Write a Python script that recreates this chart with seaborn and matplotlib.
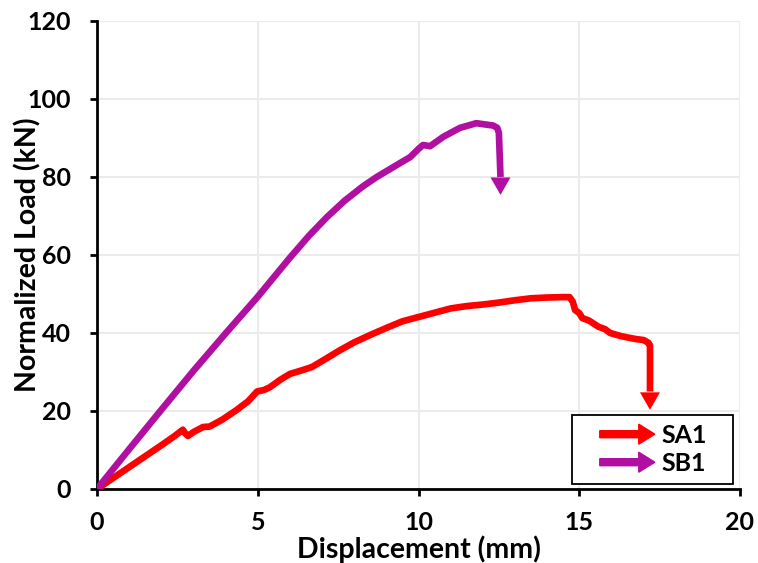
import matplotlib
matplotlib.use("Agg")
import matplotlib.pyplot as plt
import matplotlib.patches as mpatches
from matplotlib.legend_handler import HandlerPatch
import pandas as pd
import seaborn as sns

# Load-displacement curves (mm, kN); the last point of each series is the arrow tip
sa1_disp = [0, 0.5, 1.0, 1.5, 2.0, 2.4, 2.67, 2.75, 2.83, 3.0, 3.3, 3.5, 3.9, 4.35,
            4.7, 4.98, 5.2, 5.38, 5.7, 6.0, 6.4, 6.69, 7.1, 7.56, 8.0, 8.5, 9.0,
            9.5, 10.0, 10.5, 11.0, 11.5, 12.0, 12.5, 13.0, 13.5, 14.0, 14.5, 14.7,
            14.8, 14.87, 15.0, 15.1, 15.3, 15.6, 15.8, 15.96, 16.3, 16.6, 16.8,
            17.0, 17.15, 17.2, 17.2, 17.2]
sa1_load = [0, 2.8, 5.6, 8.4, 11.2, 13.5, 15.2, 14.2, 13.6, 14.6, 15.9, 16.0, 17.8,
            20.3, 22.5, 25.0, 25.4, 26.1, 28.0, 29.5, 30.5, 31.3, 33.3, 35.6, 37.6,
            39.5, 41.3, 43.0, 44.1, 45.2, 46.3, 46.9, 47.3, 47.8, 48.4, 48.9, 49.1,
            49.2, 49.2, 48.0, 45.9, 45.1, 43.8, 43.2, 41.6, 41.0, 40.0, 39.2, 38.7,
            38.4, 38.2, 37.5, 36.8, 25.0, 20.3]

sb1_disp = [0, 1.0, 2.0, 3.0, 4.0, 5.0, 6.0, 6.6, 7.15, 7.7, 8.27, 8.7, 9.33, 9.74,
            10.0, 10.14, 10.36, 10.77, 11.29, 11.8, 12.05, 12.32, 12.45, 12.5,
            12.55, 12.55]
sb1_load = [0, 10.2, 20.3, 30.3, 39.9, 49.3, 59.3, 65.0, 69.7, 73.9, 77.6, 80.0,
            83.1, 85.1, 87.2, 88.2, 87.9, 90.3, 92.6, 93.8, 93.5, 93.2, 92.6, 91.3,
            80.0, 75.4]

series_names = ["SA1", "SB1"]
series_colors = ["#FF0000", "#B10EA2"]
x_ticks = [0, 5, 10, 15, 20]
y_ticks = [0, 20, 40, 60, 80, 100, 120]

sns.set_theme(style="whitegrid")
plt.rcParams["font.family"] = ["Lato", "DejaVu Sans"]
plt.rcParams["font.weight"] = "bold"

fig, ax = plt.subplots(figsize=(7.58, 5.63), dpi=100)
fig.subplots_adjust(left=97 / 758, right=740 / 758, top=1 - 21 / 563, bottom=1 - 489 / 563)

series = [(series_names[0], sa1_disp, sa1_load), (series_names[1], sb1_disp, sb1_load)]
palette = dict(zip(series_names, series_colors))

# Curve body up to the arrow base
frames = [pd.DataFrame({"Displacement": xs[:-1], "Load": ys[:-1], "Specimen": name})
          for name, xs, ys in series]
df = pd.concat(frames, ignore_index=True)
sns.lineplot(data=df, x="Displacement", y="Load", hue="Specimen", palette=palette,
             estimator=None, sort=False, linewidth=4.8, legend=False, ax=ax, zorder=3)
for line in ax.get_lines():
    line.set_solid_joinstyle("round")
    line.set_solid_capstyle("butt")

# Arrowheads from the base point to the tip
for name, xs, ys in series:
    ax.annotate("", xy=(xs[-1], ys[-1]), xytext=(xs[-2], ys[-2]),
                arrowprops=dict(arrowstyle="-|>,head_length=0.7,head_width=0.4",
                                mutation_scale=18, color=palette[name], lw=0,
                                shrinkA=0, shrinkB=0), zorder=4)

ax.set_xlim(x_ticks[0], x_ticks[-1])
ax.set_ylim(y_ticks[0], y_ticks[-1])
ax.set_xticks(x_ticks)
ax.set_yticks(y_ticks)

ax.grid(True, color="#EBEBEB", linewidth=1.5)
for side in ["top", "right"]:
    ax.spines[side].set_visible(False)
for side in ["left", "bottom"]:
    ax.spines[side].set_color("black")
    ax.spines[side].set_linewidth(2.0)
ax.tick_params(axis="both", which="major", direction="out", length=5, width=2.0,
               color="black", labelsize=18, labelcolor="black")
ax.tick_params(axis="y", pad=14, left=True)
ax.tick_params(axis="x", pad=11, bottom=True)
for lab in ax.get_xticklabels() + ax.get_yticklabels():
    lab.set_fontweight("bold")

ax.set_xlabel("Displacement (mm)", fontsize=20.5, fontweight="bold", color="black")
ax.set_ylabel("Normalized Load (kN)", fontsize=20.5, fontweight="bold", color="black")
ax.xaxis.label.set_verticalalignment("center")
ax.yaxis.label.set_verticalalignment("center")
ax.xaxis.set_label_coords(0.5, -0.128)
ax.yaxis.set_label_coords(-0.107, 0.5)

# Legend box
box = mpatches.Rectangle((0.7387, 0.0107), 0.2505, 0.1475, transform=ax.transAxes,
                         facecolor="white", edgecolor="black", linewidth=1.3,
                         zorder=5, clip_on=False)
ax.add_patch(box)


def make_arrow(legend, orig_handle, xdescent, ydescent, width, height, fontsize):
    return mpatches.FancyArrow(-xdescent, height / 2 - ydescent, width, 0,
                               width=0.28 * fontsize, head_width=0.8 * fontsize,
                               head_length=0.64 * fontsize, length_includes_head=True)


handles = [mpatches.Patch(color=c, label=n) for n, c in zip(series_names, series_colors)]
leg = ax.legend(handles=handles, loc="center", bbox_to_anchor=(0.8655, 0.0845),
                bbox_transform=ax.transAxes, frameon=False,
                handlelength=2.2, handletextpad=0.28, labelspacing=0.2,
                borderpad=0.2, handler_map={mpatches.Patch: HandlerPatch(patch_func=make_arrow)},
                prop={"weight": "bold", "size": 18})
leg.set_zorder(6)
for t in leg.get_texts():
    t.set_color("black")

fig.savefig("out.png", dpi=100, facecolor="white")
